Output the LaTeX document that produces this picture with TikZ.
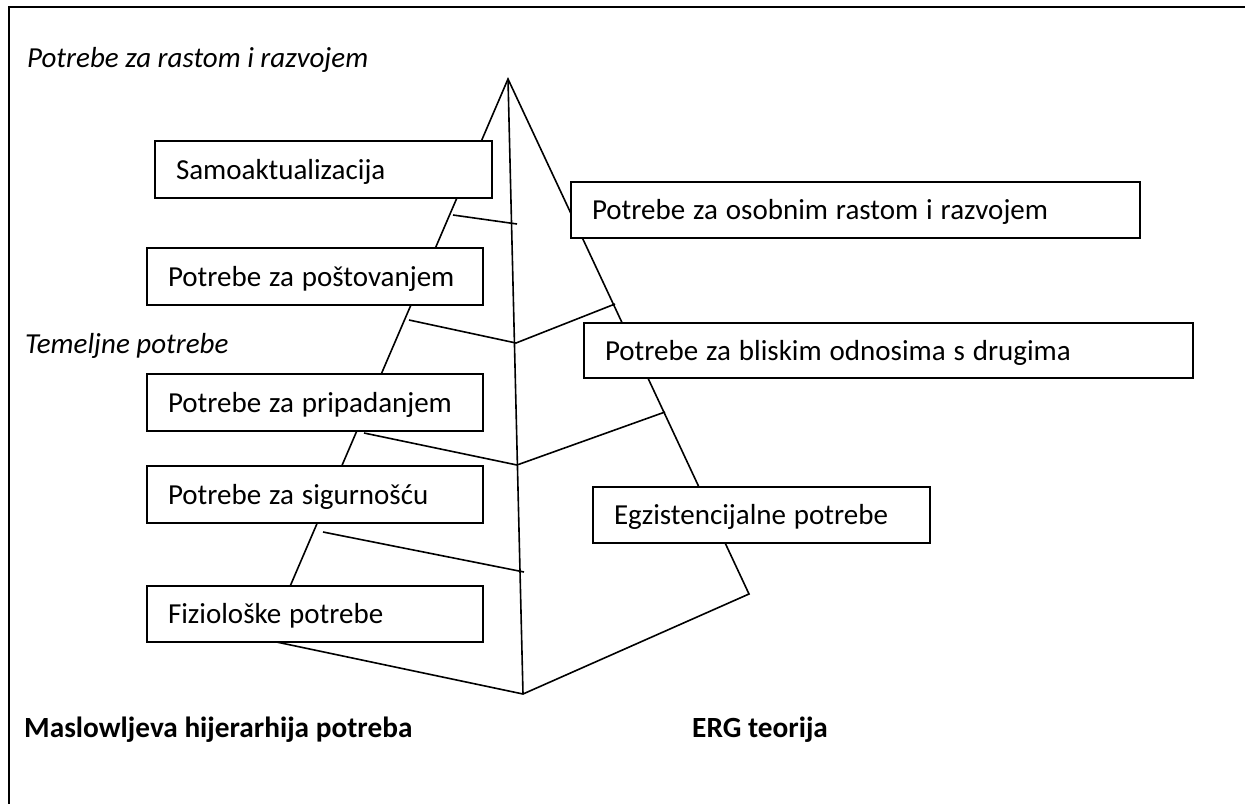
\documentclass[tikz,border=0pt]{standalone}
\usepackage{fontspec}
\setmainfont{Carlito}
\newcommand\tightwords{\spaceskip=7.9pt\relax}
\begin{document}
\begin{tikzpicture}[x=1pt,y=-1pt,
  edge/.style={line width=1.6pt, line join=miter},
  frameline/.style={line width=2pt},
  needbox/.style={draw, fill=white, line width=2pt, rectangle, anchor=north west,
    inner xsep=21pt, inner ysep=0pt, align=left, text height=19pt, text depth=0pt,
    font=\fontsize{29}{34}\selectfont, execute at begin node=\tightwords},
  heading/.style={anchor=base west, inner sep=0pt, font=\fontsize{29}{34}\selectfont\itshape},
  title/.style={anchor=base west, inner sep=0pt, font=\fontsize{29.3}{35}\selectfont\bfseries}]
\useasboundingbox (0,0) rectangle (1245,804);

% page frame (top and left rules)
\coordinate (fTL) at (9,7);
\coordinate (fTR) at (1245,7);
\coordinate (fBL) at (9,804);
\draw[frameline] (fTR) -- (fTL) -- (fBL);

% pyramid corners
\coordinate (apex) at (508,79);
\coordinate (base) at (523,694);
\coordinate (lc) at (267,640);
\coordinate (rc) at (749,594);

% division points
\coordinate (l1) at (453,215);  \coordinate (c1) at (517,224);
\coordinate (l2) at (409,320);  \coordinate (j1) at (516,343);  \coordinate (r1) at (615,304);
\coordinate (l3) at (364,433);  \coordinate (j2) at (517,465);  \coordinate (r2) at (665,412);
\coordinate (l4) at (323,532);  \coordinate (c4) at (524,572);

% outline and middle line
\draw[edge] (apex) -- (lc) -- (base) -- (rc) -- cycle;
\draw[edge] (apex) -- (base);

% level boundaries
\draw[edge] (l1) -- (c1);
\draw[edge] (l2) -- (j1) -- (r1);
\draw[edge] (l3) -- (j2) -- (r2);
\draw[edge] (l4) -- (c4);

% Maslow levels
\node[needbox, minimum width=337pt, minimum height=57pt, text width=295pt] (m5) at (154,140) {Samoaktualizacija};
\node[needbox, minimum width=336pt, minimum height=57pt, text width=294pt] (m4) at (146,247) {Potrebe za poštovanjem};
\node[needbox, minimum width=336pt, minimum height=57pt, text width=294pt] (m3) at (146,373) {Potrebe za pripadanjem};
\node[needbox, minimum width=336pt, minimum height=57pt, text width=294pt] (m2) at (146,465) {Potrebe za sigurnošću};
\node[needbox, minimum width=336pt, minimum height=56pt, text width=294pt] (m1) at (146,585) {Fiziološke potrebe};

% ERG levels
\node[needbox, minimum width=569pt, minimum height=56pt, text width=527pt] (g) at (570,181) {Potrebe za osobnim rastom i razvojem};
\node[needbox, minimum width=609pt, minimum height=55pt, text width=567pt] (r) at (583,322) {Potrebe za bliskim odnosima s drugima};
\node[needbox, minimum width=337pt, minimum height=56pt, text width=295pt] (e) at (592,486) {Egzistencijalne potrebe};

% group headings and titles
\node[heading] (hg) at (27,67) {Potrebe za rastom i razvojem};
\node[heading] (hb) at (25,353) {Temeljne potrebe};
\node[title] (tm) at (24,737) {Maslowljeva hijerarhija potreba};
\node[title] (te) at (692,737) {ERG teorija};
\end{tikzpicture}
\end{document}
